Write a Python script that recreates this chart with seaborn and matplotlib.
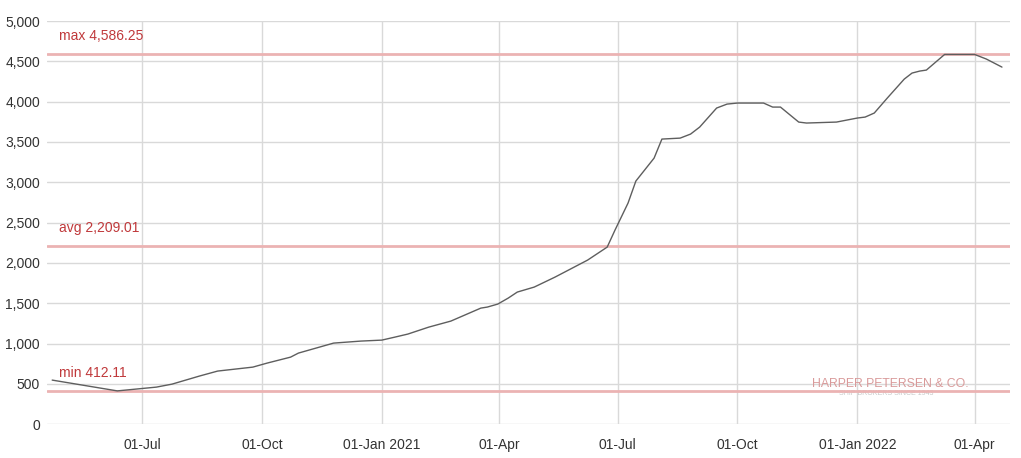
import pandas as pd
import seaborn as sns
import matplotlib.pyplot as plt
from matplotlib.ticker import FuncFormatter

# values (index level)
dates = ["2020-04-23", "2020-06-12", "2020-07-12", "2020-07-24", "2020-08-14", "2020-08-28",
         "2020-09-24", "2020-10-05", "2020-10-23", "2020-10-29", "2020-11-25", "2020-12-16",
         "2021-01-01", "2021-01-11", "2021-01-21", "2021-02-06", "2021-02-23", "2021-03-18",
         "2021-03-23", "2021-03-31", "2021-04-08", "2021-04-15", "2021-04-28", "2021-05-14",
         "2021-06-08", "2021-06-23", "2021-06-29", "2021-07-09", "2021-07-15", "2021-07-29",
         "2021-08-04", "2021-08-18", "2021-08-26", "2021-09-02", "2021-09-15", "2021-09-23",
         "2021-10-01", "2021-10-21", "2021-10-28", "2021-11-03", "2021-11-17", "2021-11-23",
         "2021-12-16", "2022-01-01", "2022-01-07", "2022-01-14", "2022-01-24", "2022-02-06",
         "2022-02-12", "2022-02-18", "2022-02-23", "2022-03-09", "2022-04-01", "2022-04-10",
         "2022-04-22"]
values = [546, 412, 459, 496, 596, 658,
          707, 757, 831, 881, 1005, 1030,
          1042, 1079, 1117, 1203, 1278, 1439,
          1452, 1489, 1563, 1638, 1700, 1824,
          2035, 2196, 2407, 2742, 3015, 3300,
          3536, 3548, 3598, 3685, 3921, 3970,
          3983, 3983, 3933, 3933, 3747, 3735,
          3747, 3797, 3809, 3859, 4045, 4280,
          4355, 4380, 4392, 4586, 4586, 4529,
          4429]

ref_names = ["max", "avg", "min"]
ref_values = [4586.25, 2209.01, 412.11]

tick_dates = ["2020-07-01", "2020-10-01", "2021-01-01", "2021-04-01",
              "2021-07-01", "2021-10-01", "2022-01-01", "2022-04-01"]
tick_labels = ["01-Jul", "01-Oct", "01-Jan 2021", "01-Apr",
               "01-Jul", "01-Oct", "01-Jan 2022", "01-Apr"]

df = pd.DataFrame({"date": pd.to_datetime(dates), "value": values})

sns.set_style("white")
plt.rcParams['font.family'] = ['Liberation Sans', 'DejaVu Sans']

fig = plt.figure(figsize=(10.21, 4.58), dpi=100)
ax = fig.add_axes([0.046, 0.074, 0.943, 0.880])

grid_c = "#d9d9d9"
for v in range(0, 5001, 500):
    ax.axhline(v, color=grid_c, lw=1, zorder=0)
for d in tick_dates:
    ax.axvline(pd.Timestamp(d), color=grid_c, lw=1, zorder=0)

sns.lineplot(data=df, x="date", y="value", ax=ax, color="#5e5e5e", lw=1.0, zorder=3)

for name, v in zip(ref_names, ref_values):
    ax.axhline(v, color="#ebb3b3", lw=2, zorder=2)
    ax.annotate(f"{name} {v:,.2f}", xy=(0, v), xycoords=("axes fraction", "data"),
                xytext=(8.5, 8), textcoords="offset points", ha="left", va="bottom",
                color="#c0393b", fontsize=10)

ax.set_xlim(pd.Timestamp("2020-04-19"), pd.Timestamp("2022-04-28"))
ax.set_ylim(0, 5000)
ax.set_yticks(range(0, 5001, 500))
ax.yaxis.set_major_formatter(FuncFormatter(lambda v, p: f"{int(v):,}"))
ax.set_xticks(pd.to_datetime(tick_dates))
ax.set_xticklabels(tick_labels)

ax.tick_params(axis="y", length=0, pad=5, labelsize=10, labelcolor="#333333")
ax.tick_params(axis="x", length=7, width=1, color=grid_c, pad=3, labelsize=10, labelcolor="#333333")
for s in ax.spines.values():
    s.set_visible(False)
ax.set_xlabel("")
ax.set_ylabel("")

# watermark
ax.text(0.876, 0.099, "HARPER PETERSEN & CO.", transform=ax.transAxes, ha="center",
        va="center", color="#d99a9a", fontsize=8.8, zorder=1)
ax.text(0.872, 0.075, "SHIP BROKERS SINCE 1943", transform=ax.transAxes, ha="center",
        va="center", color="#c8c8c8", fontsize=5, zorder=1)

fig.savefig("out.png", dpi=100)
